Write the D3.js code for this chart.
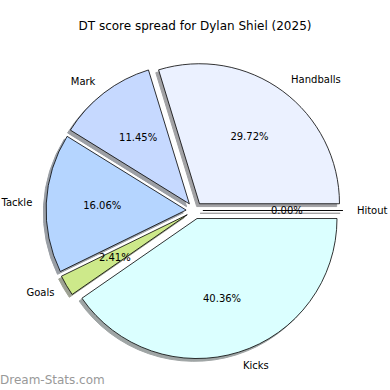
<!DOCTYPE html>
<html>
<head>
<meta charset="utf-8">
<script src="https://cdn.jsdelivr.net/npm/d3@7"></script>
<style>
  body { margin: 0; background: #fff; }
  text { font-family: "DejaVu Sans", sans-serif; }
</style>
</head>
<body>
<div id="chart"></div>
<script>
// Slices in matplotlib order (counter-clockwise from 3 o'clock)
const labels = ["Handballs", "Mark", "Tackle", "Goals", "Kicks", "Hitout"];
const shares = [29.72, 11.45, 16.06, 2.41, 40.36, 0.00];
const colors = ["#ebf1ff", "#c6d9ff", "#b5d5ff", "#cde98a", "#dbffff", "#e0e0e0"];

const width = 390;
const height = 390;
const cx = 194.5, cy = 210.5;
const radius = 140;
const explode = 0.06 * radius;
const shadowOff = 0.02 * radius;

const svg = d3.select("#chart")
  .append("svg")
  .attr("width", width)
  .attr("height", height);

svg.append("rect").attr("width", width).attr("height", height).attr("fill", "#fff");

// Title
svg.append("text")
  .attr("x", width / 2)
  .attr("y", 30)
  .attr("text-anchor", "middle")
  .attr("font-size", 12)
  .attr("fill", "#000")
  .text("DT score spread for Dylan Shiel (2025)");

// counter-clockwise starting at 3 o'clock, like matplotlib
const pie = d3.pie()
  .sort(null)
  .value(d => d)
  .startAngle(Math.PI / 2)
  .endAngle(Math.PI / 2 - 2 * Math.PI);

const arcs = pie(shares);
const arc = d3.arc().innerRadius(0).outerRadius(radius);

const mid = d => (d.startAngle + d.endAngle) / 2;
const offset = (d, dist) => [Math.sin(mid(d)) * dist, -Math.cos(mid(d)) * dist];

const shade = i => {
  const c = d3.rgb(colors[i]);
  return d3.rgb(c.r * 0.3, c.g * 0.3, c.b * 0.3);
};

const g = svg.append("g").attr("transform", `translate(${cx},${cy})`);

// Shadows first (under all wedges)
g.selectAll(".shadow")
  .data(arcs)
  .enter()
  .append("path")
  .attr("class", "shadow")
  .attr("transform", d => {
    const [ox, oy] = offset(d, explode);
    return `translate(${ox - shadowOff},${oy + shadowOff})`;
  })
  .attr("d", arc)
  .attr("fill", (d, i) => shade(i))
  .attr("stroke", (d, i) => shade(i))
  .attr("stroke-width", 1)
  .attr("opacity", 0.5);

// Wedges
g.selectAll(".wedge")
  .data(arcs)
  .enter()
  .append("path")
  .attr("class", "wedge")
  .attr("transform", d => {
    const [ox, oy] = offset(d, explode);
    return `translate(${ox},${oy})`;
  })
  .attr("d", arc)
  .attr("fill", (d, i) => colors[i])
  .attr("stroke", "#000")
  .attr("stroke-width", 0.8)
  .attr("stroke-linejoin", "round");

// Outer labels
g.selectAll(".label")
  .data(arcs)
  .enter()
  .append("text")
  .attr("class", "label")
  .attr("x", d => offset(d, explode + 1.1 * radius)[0])
  .attr("y", d => offset(d, explode + 1.1 * radius)[1])
  .attr("dy", "0.35em")
  .attr("text-anchor", d => offset(d, 1)[0] > 0 ? "start" : "end")
  .attr("font-size", 10)
  .attr("fill", "#000")
  .text((d, i) => labels[i]);

// Percentages
g.selectAll(".pct")
  .data(arcs)
  .enter()
  .append("text")
  .attr("class", "pct")
  .attr("x", d => offset(d, explode + 0.6 * radius)[0])
  .attr("y", d => offset(d, explode + 0.6 * radius)[1])
  .attr("dy", "0.35em")
  .attr("text-anchor", "middle")
  .attr("font-size", 10)
  .attr("fill", "#000")
  .text(d => d.data.toFixed(2) + "%");

// Watermark
svg.append("text")
  .attr("x", 0)
  .attr("y", 384)
  .attr("font-size", 12)
  .attr("fill", "#999")
  .text("Dream-Stats.com");
</script>
</body>
</html>
